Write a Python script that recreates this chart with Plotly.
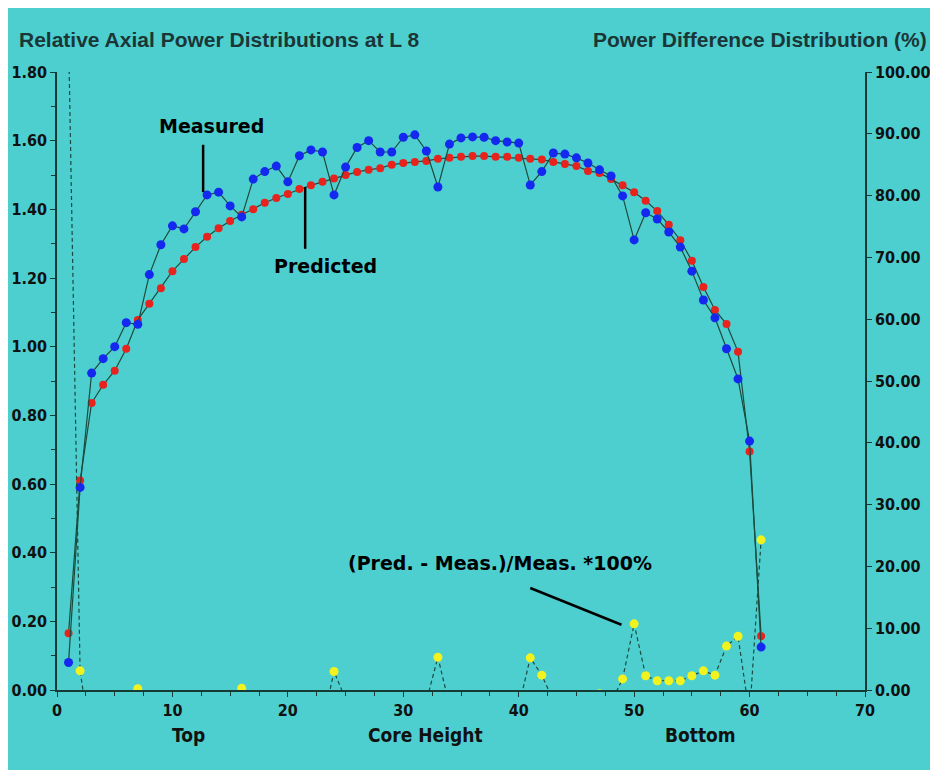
import plotly.graph_objects as go

positions = list(range(1, 62))

measured = [0.08, 0.59, 0.923, 0.965, 1.00, 1.07, 1.065, 1.21, 1.297, 1.352,
            1.343, 1.393, 1.442, 1.45, 1.41, 1.378, 1.488, 1.51, 1.526, 1.48,
            1.556, 1.573, 1.567, 1.442, 1.523, 1.58, 1.60, 1.567, 1.567, 1.61,
            1.617, 1.57, 1.465, 1.59, 1.608, 1.611, 1.61, 1.60, 1.596, 1.593,
            1.471, 1.51, 1.564, 1.561, 1.55, 1.535, 1.515, 1.497, 1.439, 1.311,
            1.39, 1.372, 1.334, 1.29, 1.22, 1.136, 1.084, 0.994, 0.906, 0.725,
            0.125]

predicted = [0.165, 0.61, 0.836, 0.889, 0.93, 0.994, 1.078, 1.125, 1.17, 1.22,
             1.255, 1.29, 1.32, 1.345, 1.366, 1.384, 1.40, 1.419, 1.433, 1.445,
             1.459, 1.47, 1.48, 1.49, 1.50, 1.509, 1.515, 1.52, 1.53, 1.535,
             1.538, 1.541, 1.547, 1.55, 1.553, 1.555, 1.555, 1.553, 1.553, 1.55,
             1.547, 1.545, 1.538, 1.532, 1.526, 1.512, 1.506, 1.488, 1.47, 1.45,
             1.425, 1.395, 1.355, 1.31, 1.25, 1.174, 1.107, 1.066, 0.985, 0.695,
             0.157]

difference_pct = [106.0, 3.1, -9.4, -7.9, -7.0, -7.1, 0.2, -7.0, -9.8, -9.8,
                  -6.6, -7.4, -8.5, -7.2, -3.1, 0.3, -5.9, -6.0, -6.1, -2.4,
                  -6.2, -6.5, -5.6, 3.0, -1.5, -4.5, -5.3, -3.0, -2.4, -4.7,
                  -4.9, -1.8, 5.3, -2.5, -3.4, -3.5, -3.4, -2.9, -2.7, -2.7,
                  5.2, 2.4, -1.7, -1.9, -1.5, -1.5, -0.6, -2.0, 1.8, 10.7,
                  2.3, 1.5, 1.5, 1.5, 2.3, 3.1, 2.4, 7.1, 8.7, -4.1,
                  24.3]

left_ticks = [0.0, 0.2, 0.4, 0.6, 0.8, 1.0, 1.2, 1.4, 1.6, 1.8]
right_ticks = [0, 10, 20, 30, 40, 50, 60, 70, 80, 90, 100]
x_ticks = [0, 10, 20, 30, 40, 50, 60, 70]

BG = "#4dcfcf"
AXIS = "#163a34"
LINE = "#1c4a3c"
TICKFONT = dict(family="DejaVu Sans Condensed, Liberation Sans Narrow, sans-serif",
                size=16, color="#111111", weight="bold")

fig = go.Figure()

fig.add_trace(go.Scatter(
    x=positions, y=difference_pct, yaxis="y2", mode="lines+markers",
    line=dict(color="#1a4a40", width=1.2, dash="4px,3px"),
    marker=dict(color="#f2f21e", size=9),
    showlegend=False))

fig.add_trace(go.Scatter(
    x=positions, y=predicted, mode="lines+markers",
    line=dict(color=LINE, width=1.2),
    marker=dict(color="#e8231e", size=8),
    showlegend=False))

fig.add_trace(go.Scatter(
    x=positions, y=measured, mode="lines+markers",
    line=dict(color=LINE, width=1.2),
    marker=dict(color="#1428f0", size=9),
    showlegend=False))

# page body adds an 8px offset; figure sized so the plot area lands where the reference has it
fig.update_layout(
    width=930, height=762,
    paper_bgcolor=BG, plot_bgcolor=BG,
    margin=dict(l=49, r=73, t=64, b=80, autoexpand=False),
    xaxis=dict(range=[0, 70], tickvals=x_ticks, ticks="outside", ticklen=5,
               tickcolor=AXIS, showline=True, linecolor=AXIS, linewidth=1.5,
               showgrid=False, zeroline=False, tickfont=TICKFONT, automargin=False,
               minor=dict(dtick=2.5, ticks="outside", ticklen=4, tickcolor=AXIS)),
    yaxis=dict(range=[0, 1.8], tickvals=left_ticks, tickformat=".2f",
               ticks="outside", ticklen=5, tickcolor=AXIS, showline=True,
               linecolor=AXIS, linewidth=1.5, showgrid=False, zeroline=False,
               tickfont=TICKFONT, automargin=False,
               minor=dict(dtick=0.1, ticks="outside", ticklen=4, tickcolor=AXIS)),
    yaxis2=dict(range=[0, 100], tickvals=right_ticks, tickformat=".2f",
                overlaying="y", side="right", ticks="outside", ticklen=5,
                tickcolor=AXIS, showline=True, linecolor=AXIS, linewidth=1.5,
                showgrid=False, zeroline=False, tickfont=TICKFONT, automargin=False),
)

TITLEFONT = dict(family="Liberation Sans, Arial, sans-serif", size=21, color="#1b3636")
BOLD = dict(family="DejaVu Sans, Verdana, sans-serif", size=19, color="#000000")
BOTTOMFONT = dict(family="DejaVu Sans Condensed, Liberation Sans Narrow, sans-serif",
                  size=19, color="#111111", weight="bold")

PW = 808.0
PH = 618.0
def px(xp):
    return (xp - 57) / PW
def py(yp):
    return (690 - yp) / PH

annotations = [
    dict(text="<b>Relative Axial Power Distributions at L 8</b>", xref="paper", yref="paper",
         x=px(17), y=py(40), xanchor="left", yanchor="middle", showarrow=False, font=TITLEFONT),
    dict(text="<b>Power Difference Distribution (%)</b>", xref="paper", yref="paper",
         x=px(929), y=py(40), xanchor="right", yanchor="middle", showarrow=False, font=TITLEFONT),
    dict(text="<b>Measured</b>", x=13.4, y=1.643, showarrow=False, font=BOLD),
    dict(text="<b>Predicted</b>", x=23.3, y=1.235, showarrow=False, font=BOLD),
    dict(text="<b>(Pred. - Meas.)/Meas. *100%</b>", x=38.4, y=0.37, showarrow=False, font=BOLD),
    dict(text="Top", xref="paper", yref="paper", x=px(170), y=py(748),
         showarrow=False, font=BOTTOMFONT),
    dict(text="Core Height", xref="paper", yref="paper", x=px(425), y=py(748),
         showarrow=False, font=BOTTOMFONT),
    dict(text="Bottom", xref="paper", yref="paper", x=px(738), y=py(748),
         showarrow=False, font=BOTTOMFONT),
]
fig.update_layout(annotations=annotations)

fig.add_shape(type="line", x0=12.66, y0=1.588, x1=12.66, y1=1.45,
              line=dict(color="#000000", width=2.5))
fig.add_shape(type="line", x0=21.5, y0=1.465, x1=21.5, y1=1.285,
              line=dict(color="#000000", width=2.5))
fig.add_shape(type="line", x0=41.0, y0=0.297, x1=48.9, y1=0.19,
              line=dict(color="#000000", width=2.5))

fig.write_html("out.html")
